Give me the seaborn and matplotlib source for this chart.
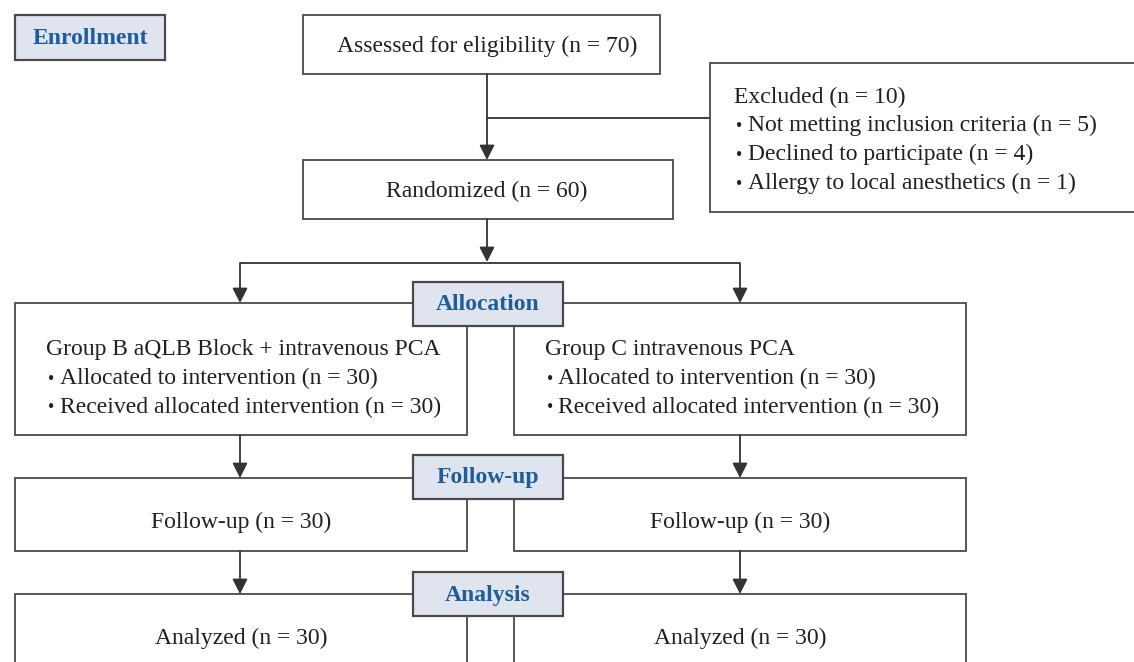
import matplotlib
matplotlib.use("Agg")
import matplotlib.pyplot as plt
import seaborn as sns
from matplotlib.patches import Rectangle

sns.set_theme(style="white")
plt.rcParams['font.family'] = ['Liberation Serif', 'DejaVu Serif']

# ---- content ----
stage_labels = ["Enrollment", "Allocation", "Follow-up", "Analysis"]
assessed_text = "Assessed for eligibility (n = 70)"
randomized_text = "Randomized (n = 60)"
excluded_head = "Excluded (n = 10)"
excluded_items = ["Not metting inclusion criteria (n = 5)",
                  "Declined to participate (n = 4)",
                  "Allergy to local anesthetics (n = 1)"]
group_b_head = "Group B aQLB Block + intravenous PCA"
group_c_head = "Group C intravenous PCA"
group_items = ["Allocated to intervention (n = 30)",
               "Received allocated intervention (n = 30)"]
followup_texts = ["Follow-up (n = 30)", "Follow-up (n = 30)"]
analysis_texts = ["Analyzed (n = 30)", "Analyzed (n = 30)"]

W, H = 1134, 662
fig = plt.figure(figsize=(W / 100, H / 100), dpi=100)
ax = fig.add_axes([0, 0, 1, 1])
ax.set_xlim(0, W)
ax.set_ylim(H, 0)
ax.axis("off")

EDGE = "#4a4a4a"
LINE = "#333333"
LABEL_FILL = "#dfe4ef"
LABEL_TXT = "#1c5e9b"
TXT = "#231f20"
FS = 17

def box(x0, y0, x1, y1, fill="white", lw=1.3, z=2):
    ax.add_patch(Rectangle((x0, y0), x1 - x0, y1 - y0, facecolor=fill,
                           edgecolor=EDGE, lw=lw, zorder=z))

def label(x0, y0, x1, y1, txt):
    box(x0, y0, x1, y1, fill=LABEL_FILL, lw=1.6, z=5)
    ax.text((x0 + x1) / 2, (y0 + y1) / 2 + 1, txt, ha="center", va="center",
            fontsize=17, fontweight="bold", color=LABEL_TXT, zorder=6)

def line(xs, ys):
    ax.plot(xs, ys, color=LINE, lw=1.3, zorder=1, solid_capstyle="butt")

def arrow(x, y0, y1):
    ax.annotate("", xy=(x, y1), xytext=(x, y0),
                arrowprops=dict(arrowstyle="-|>,head_length=0.75,head_width=0.38",
                                color=LINE, lw=1.3, shrinkA=0, shrinkB=0),
                zorder=3)

def txt(x, y, s, ha="left"):
    ax.text(x, y + 1, s, ha=ha, va="center", fontsize=FS, color=TXT, zorder=4)

def bullet(x, y, s):
    ax.text(x + 5.5, y + 2, "\u2022", ha="center", va="center", fontsize=13,
            color=TXT, zorder=4)
    txt(x + 13.5, y, s)

# Enrollment
label(15, 15, 165, 60, stage_labels[0])

# Assessed
box(303, 15, 660, 74)
txt(487, 45, assessed_text, ha="center")

# Excluded
box(710, 63, 1140, 212)
txt(734, 96, excluded_head)
for i, t in enumerate(excluded_items):
    bullet(734, 124.7 + i * 28.7, t)

# assessed -> randomized, branch to excluded
arrow(487, 74, 160)
line([487, 710], [118, 118])

# Randomized
box(303, 160, 673, 219)
txt(487, 190, randomized_text, ha="center")

# randomized -> split
arrow(487, 219, 262)
line([240, 740], [263, 263])
arrow(240, 263, 303)
arrow(740, 263, 303)

# Allocation boxes
box(15, 303, 467, 435)
box(514, 303, 966, 435)
txt(46, 348, group_b_head)
txt(545, 348, group_c_head)
for i, t in enumerate(group_items):
    bullet(46, 377 + i * 29, t)
    bullet(545, 377 + i * 29, t)
label(413, 282, 563, 326, stage_labels[1])

# Follow-up
arrow(240, 435, 478)
arrow(740, 435, 478)
box(15, 478, 467, 551)
box(514, 478, 966, 551)
txt(241, 521, followup_texts[0], ha="center")
txt(740, 521, followup_texts[1], ha="center")
label(413, 455, 563, 499, stage_labels[2])

# Analysis
arrow(240, 551, 594)
arrow(740, 551, 594)
box(15, 594, 467, 680)
box(514, 594, 966, 680)
txt(241, 637, analysis_texts[0], ha="center")
txt(740, 637, analysis_texts[1], ha="center")
label(413, 572, 563, 616, stage_labels[3])

fig.savefig("out.png", dpi=100)
